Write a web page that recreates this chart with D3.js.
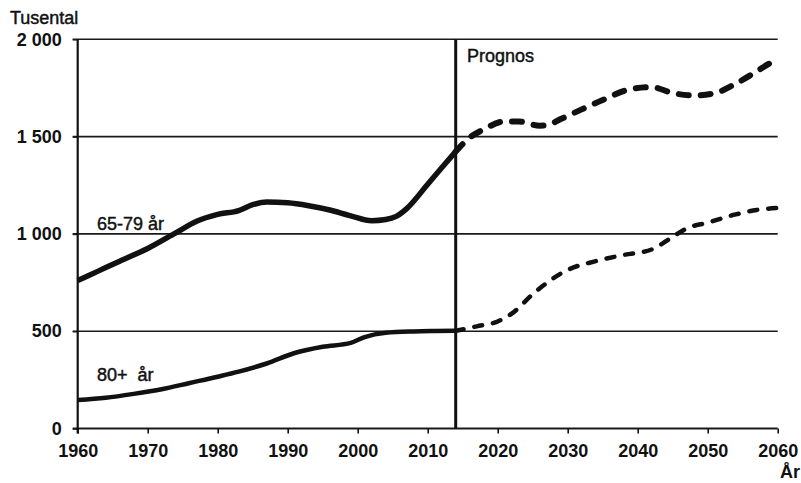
<!DOCTYPE html>
<html>
<head>
<meta charset="utf-8">
<script src="https://cdn.jsdelivr.net/npm/d3@7"></script>
<style>
    body { margin: 0; background: #fff; }
    svg { display: block; font-family: "Liberation Sans", Arial, sans-serif; }
</style>
</head>
<body>
<div id="chart"></div>
<script>
// Antal personer (tusental), 65-79 år och 80+ år, utfall och prognos
let histYears6579 = [1960, 1963, 1966, 1970, 1974, 1977, 1980, 1983, 1985, 1987, 1990, 1993, 1996, 1999, 2002, 2004, 2005.5, 2007, 2010, 2012, 2014];
let hist6579 = [760, 810, 860, 925, 1005, 1065, 1100, 1120, 1150, 1164, 1160, 1145, 1123, 1093, 1068, 1074, 1090, 1130, 1255, 1340, 1423];
let progYears6579 = [2014, 2016, 2018, 2021, 2023, 2026, 2027, 2029, 2032, 2035, 2039, 2042, 2045, 2048, 2051, 2054, 2057, 2059, 2060];
let prog6579 = [1423, 1495, 1537, 1578, 1578, 1556, 1558, 1590, 1640, 1688, 1744, 1754, 1724, 1711, 1723, 1772, 1835, 1878, 1888];

let histYears80 = [1960, 1964, 1968, 1972, 1976, 1980, 1983, 1987, 1991, 1995, 1999, 2001, 2004, 2008, 2011, 2014];
let hist80 = [146, 158, 178, 202, 234, 266, 292, 334, 388, 420, 440, 470, 492, 499, 501, 502];
let progYears80 = [2014, 2017, 2020, 2022, 2025, 2027, 2030, 2034, 2038, 2042, 2045, 2047, 2050, 2054, 2057, 2060];
let prog80 = [502, 525, 550, 590, 690, 748, 815, 860, 892, 920, 985, 1028, 1058, 1100, 1123, 1133];

let xTicks = [1960, 1970, 1980, 1990, 2000, 2010, 2020, 2030, 2040, 2050, 2060];
let yTicks = [0, 500, 1000, 1500, 2000];
let prognosYear = 2014;

let width = 801, height = 483;
let svg = d3.select("#chart").append("svg").attr("width", width).attr("height", height);

let x = d3.scaleLinear().domain([1960, 2060]).range([77.7, 777.7]);
let y = d3.scaleLinear().domain([0, 2000]).range([428.5, 39.3]);

// Stödlinjer
svg.append("g").selectAll("line")
    .data(yTicks)
    .enter().append("line")
    .attr("x1", x(1960) - 5).attr("x2", x(2060))
    .attr("y1", d => y(d)).attr("y2", d => y(d))
    .attr("stroke", "#1a1a1a")
    .attr("stroke-width", d => d === 0 ? 2 : 1.6);

// Y-axel
let fmt = d => d3.format(",")(d).replace(",", " ");
let yAxis = svg.append("g")
    .attr("transform", `translate(${x(1960)},0)`)
    .call(d3.axisLeft(y).tickValues(yTicks).tickFormat(fmt).tickSize(5).tickPadding(11));
yAxis.select(".domain").remove();
yAxis.selectAll("line").attr("stroke", "#1a1a1a").attr("stroke-width", 1.6);
yAxis.selectAll("text")
    .attr("fill", "#111")
    .style("font-size", "18px")
    .style("font-weight", "bold");

svg.append("line")
    .attr("x1", x(1960)).attr("x2", x(1960))
    .attr("y1", y(2000)).attr("y2", y(0) + 5)
    .attr("stroke", "#111").attr("stroke-width", 2.2);

// X-axel
let xAxis = svg.append("g")
    .attr("transform", `translate(0,${y(0)})`)
    .call(d3.axisBottom(x).tickValues(xTicks).tickFormat(d3.format("d")).tickSize(5).tickPadding(11));
xAxis.select(".domain").remove();
xAxis.selectAll("line").attr("stroke", "#111").attr("stroke-width", 1.6);
xAxis.selectAll("text")
    .attr("fill", "#111")
    .style("font-size", "18px")
    .style("font-weight", "bold");

// Prognoslinje
svg.append("line")
    .attr("x1", x(prognosYear)).attr("x2", x(prognosYear))
    .attr("y1", y(2000)).attr("y2", y(0))
    .attr("stroke", "#111").attr("stroke-width", 3);

// Serier
let line = d3.line()
    .x(d => x(d[0]))
    .y(d => y(d[1]))
    .curve(d3.curveMonotoneX);

let series = [
    { years: histYears6579, values: hist6579, w: 5.5, dash: null },
    { years: progYears6579, values: prog6579, w: 6, dash: "10,12" },
    { years: histYears80, values: hist80, w: 4.5, dash: null },
    { years: progYears80, values: prog80, w: 4.5, dash: "8,11" }
];

series.forEach(s => {
    svg.append("path")
        .datum(d3.zip(s.years, s.values))
        .attr("d", line)
        .attr("fill", "none")
        .attr("stroke", "#111")
        .attr("stroke-width", s.w)
        .attr("stroke-linecap", s.dash ? "round" : "butt")
        .attr("stroke-linejoin", "round")
        .attr("stroke-dasharray", s.dash);
});

// Texter
let label = (tx, ty, t, anchor) => svg.append("text")
    .attr("x", tx).attr("y", ty)
    .attr("text-anchor", anchor || "start")
    .attr("fill", "#111")
    .attr("stroke", "#111")
    .attr("stroke-width", 0.45)
    .style("font-size", "18px")
    .text(t);

label(10, 24, "Tusental");
label(467, 62, "Prognos");
label(97, 230, "65-79 år");
label(97, 381, "80+\u00a0 år");
label(800, 478, "År", "end").attr("stroke", null).style("font-weight", "bold");
</script>
</body>
</html>
